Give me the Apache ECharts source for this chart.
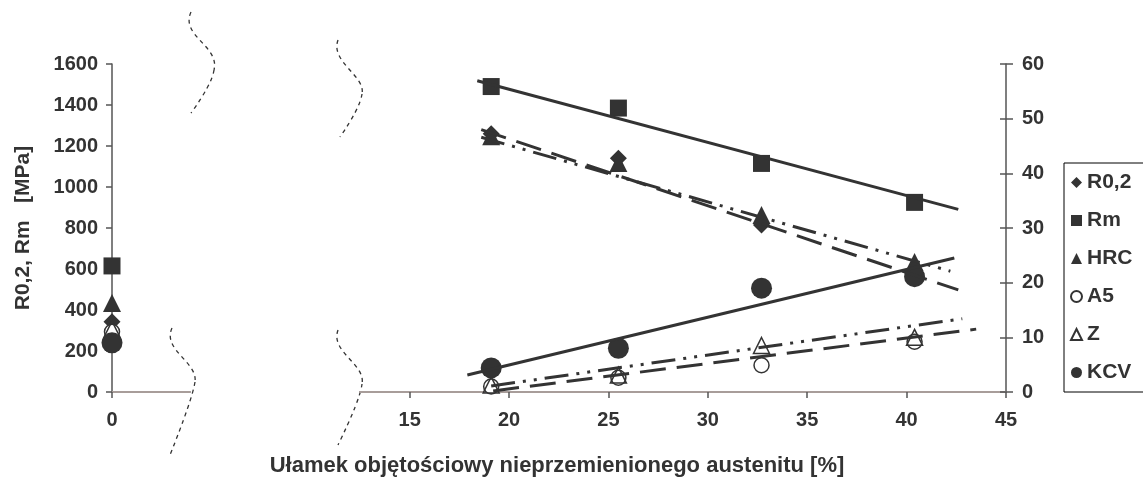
<!DOCTYPE html>
<html><head><meta charset="utf-8">
<script src="https://cdn.jsdelivr.net/npm/echarts@6/dist/echarts.min.js"></script>
<style>html,body{margin:0;padding:0;background:#fff}#c{width:1143px;height:477px}</style>
</head><body><div id="c"></div>
<script>
// ---- data ----
const seriesNames = ['R0,2', 'Rm', 'HRC', 'A5', 'Z', 'KCV'];
const xLeft = [0];
const xRight = [19.1, 25.5, 32.7, 40.4];
const r02Left = [343],  r02Right = [1260, 1140, 815, 590];
const rmLeft = [615],   rmRight = [1490, 1385, 1115, 925];
const hrcLeft = [16.3], hrcRight = [46.8, 41.9, 32.4, 23.8];
const a5Left = [11.0],  a5Right = [1.0, 2.6, 4.9, 9.2];
const zLeft = [11.5],   zRight = [1.3, 3.1, 8.5, 10.0];
const kcvLeft = [9.0],  kcvRight = [4.4, 8.0, 19.0, 21.1];
// trend lines: end points [x, value]
const trendR02 = [[18.6, 1280], [42.6, 498]];
const trendRm  = [[18.4, 1518], [42.6, 891]];
const trendHRC = [[18.6, 46.6], [42.2, 22.1]];
const trendA5  = [[19.2, 0.2], [43.5, 11.5]];
const trendZ   = [[19.1, 1.1], [42.8, 13.4]];
const trendKCV = [[17.9, 3.1], [42.4, 24.5]];
const xTicksLeft = [0];
const xTicksRight = [15, 20, 25, 30, 35, 40, 45];
const yTitle = 'R0,2, Rm   [MPa]';
const xTitle = 'Ułamek objętościowy nieprzemienionego austenitu [%]';

// ---- styles ----
const INK = '#333';
const FONT = '"Liberation Sans", Arial, sans-serif';
const txt = { fontFamily: FONT, fontWeight: 'bold', fontSize: 20, color: INK };
const plain = v => String(v);
const pts = (xs, ys) => xs.map((x, i) => [x, ys[i]]);

const sym = {
  'R0,2': { symbol: 'diamond', symbolSize: 17, itemStyle: { color: INK, opacity: 1 } },
  'Rm':   { symbol: 'rect', symbolSize: 17, itemStyle: { color: INK, opacity: 1 } },
  'HRC':  { symbol: 'triangle', symbolSize: 18, itemStyle: { color: INK, opacity: 1 } },
  'A5':   { symbol: 'circle', symbolSize: 15, itemStyle: { color: '#fff', borderColor: INK, borderWidth: 1.5, opacity: 1 } },
  'Z':    { symbol: 'triangle', symbolSize: 16, itemStyle: { color: 'rgba(255,255,255,0)', borderColor: INK, borderWidth: 1.5, opacity: 1 } },
  'KCV':  { symbol: 'circle', symbolSize: 21, itemStyle: { color: INK, opacity: 1 } }
};
const leftData = { 'R0,2': r02Left, 'Rm': rmLeft, 'HRC': hrcLeft, 'A5': a5Left, 'Z': zLeft, 'KCV': kcvLeft };
const rightData = { 'R0,2': r02Right, 'Rm': rmRight, 'HRC': hrcRight, 'A5': a5Right, 'Z': zRight, 'KCV': kcvRight };
const trends = { 'R0,2': trendR02, 'Rm': trendRm, 'HRC': trendHRC, 'A5': trendA5, 'Z': trendZ, 'KCV': trendKCV };
const mpa = n => n === 'R0,2' || n === 'Rm';
const LONG = [26, 11], DDOT = [24, 8, 3, 8, 3, 8];
const dash = { 'R0,2': LONG, 'Rm': 'solid', 'HRC': DDOT, 'A5': LONG, 'Z': DDOT, 'KCV': 'solid' };

const series = [];
seriesNames.forEach(n => {
  series.push(Object.assign({ type: 'scatter', name: n, xAxisIndex: 0, yAxisIndex: mpa(n) ? 0 : 1,
    data: pts(xLeft, leftData[n]), clip: false, z: 3 }, sym[n]));
  series.push(Object.assign({ type: 'scatter', name: n, xAxisIndex: 1, yAxisIndex: mpa(n) ? 2 : 3,
    data: pts(xRight, rightData[n]), clip: false, z: 3 }, sym[n]));
});
seriesNames.forEach(n => {
  series.push({ type: 'line', name: n + ' trend', xAxisIndex: 1, yAxisIndex: mpa(n) ? 2 : 3,
    data: trends[n], symbol: 'none', z: 4, silent: true,
    lineStyle: { color: INK, width: 3, type: dash[n] } });
});

const axisLineGrey = { lineStyle: { color: '#555', width: 1.5 } };
const topLine = { show: true, lineStyle: { color: '#a89d9a', width: 2 } };
const breakStyle = { fill: null, stroke: INK, lineWidth: 1.3, lineDash: [4, 4] };
function breakMark(x0, y0, c1x, c1y, c2x, c2y, x1, y1, qx, qy, x2, y2) {
  return [
    { type: 'bezierCurve', silent: true, shape: { x1: x0, y1: y0, cpx1: c1x, cpy1: c1y, cpx2: c2x, cpy2: c2y, x2: x1, y2: y1 }, style: breakStyle },
    { type: 'bezierCurve', silent: true, shape: { x1: x1, y1: y1, cpx1: qx, cpy1: qy, x2: x2, y2: y2 }, style: breakStyle }
  ];
}

const option = {
  animation: false,
  backgroundColor: '#fff',
  textStyle: { fontFamily: FONT },
  grid: [
    { left: 112, top: 64, width: 78, height: 328 },
    { left: 360, top: 64, width: 646, height: 328 }
  ],
  xAxis: [
    { gridIndex: 0, type: 'value', min: 0, max: 10, position: 'bottom',
      axisLine: axisLineGrey, splitLine: { show: false },
      axisTick: { length: 6, lineStyle: { color: '#555', width: 1.5 }, customValues: xTicksLeft },
      axisLabel: Object.assign({ margin: 18, customValues: xTicksLeft, formatter: plain }, txt) },
    { gridIndex: 1, type: 'value', min: 12.5, max: 45, position: 'bottom',
      axisLine: axisLineGrey, splitLine: { show: false },
      axisTick: { length: 6, lineStyle: { color: '#555', width: 1.5 }, customValues: xTicksRight },
      axisLabel: Object.assign({ margin: 18, customValues: xTicksRight, formatter: plain }, txt) },
    { gridIndex: 0, type: 'value', min: 0, max: 10, position: 'top', axisLine: topLine,
      axisTick: { show: false }, axisLabel: { show: false }, splitLine: { show: false } },
    { gridIndex: 1, type: 'value', min: 12.5, max: 45, position: 'top', axisLine: topLine,
      axisTick: { show: false }, axisLabel: { show: false }, splitLine: { show: false } }
  ],
  yAxis: [
    { gridIndex: 0, type: 'value', min: 0, max: 1600, interval: 200, position: 'left',
      name: yTitle, nameLocation: 'middle', nameGap: 78, nameRotate: 90,
      nameTextStyle: Object.assign({}, txt, { fontSize: 21 }),
      axisLine: { show: true, lineStyle: { color: '#555', width: 1.5 } },
      axisTick: { show: true, length: 6, lineStyle: { color: '#555', width: 1.5 } },
      axisLabel: Object.assign({ margin: 14, formatter: plain }, txt), splitLine: { show: false } },
    { gridIndex: 0, type: 'value', min: 0, max: 60, interval: 10, show: false },
    { gridIndex: 1, type: 'value', min: 0, max: 1600, interval: 200, show: false },
    { gridIndex: 1, type: 'value', min: 0, max: 60, interval: 10, position: 'right',
      axisLine: { show: true, lineStyle: { color: '#555', width: 1.5 } },
      axisTick: { show: true, length: 7, lineStyle: { color: '#555', width: 1.5 } },
      axisLabel: Object.assign({ margin: 16, formatter: plain }, txt), splitLine: { show: false } },
    { gridIndex: 1, type: 'value', min: 0, max: 60, interval: 10, position: 'right',
      axisLine: { show: false }, axisLabel: { show: false }, splitLine: { show: false },
      axisTick: { show: true, inside: true, length: 6, lineStyle: { color: '#555', width: 1.5 } } }
  ],
  legend: {
    orient: 'vertical', left: 1064, top: 163,
    data: seriesNames,
    itemWidth: 11, itemHeight: 11, itemGap: 17,
    padding: [9, 30, 9, 6],
    borderColor: '#000', borderWidth: 1,
    textStyle: Object.assign({}, txt, { fontSize: 21 })
  },
  graphic: [
    { type: 'text', silent: true, x: 557, y: 466,
      style: { text: xTitle, font: 'bold 22px ' + FONT, fill: INK, align: 'center', verticalAlign: 'middle' } }
  ].concat(
    breakMark(191, 12, 180, 36, 220, 46, 214, 70, 212, 84, 191, 113),
    breakMark(172, 328, 162, 350, 198, 362, 195, 382, 192, 400, 170, 455),
    breakMark(338, 40, 330, 62, 366, 76, 362, 94, 360, 108, 340, 137),
    breakMark(338, 330, 330, 352, 366, 364, 362, 384, 360, 400, 338, 445)
  ),
  series: series
};
const chart = echarts.init(document.getElementById('c'), null, { renderer: 'canvas' });
chart.setOption(option);
</script></body></html>
